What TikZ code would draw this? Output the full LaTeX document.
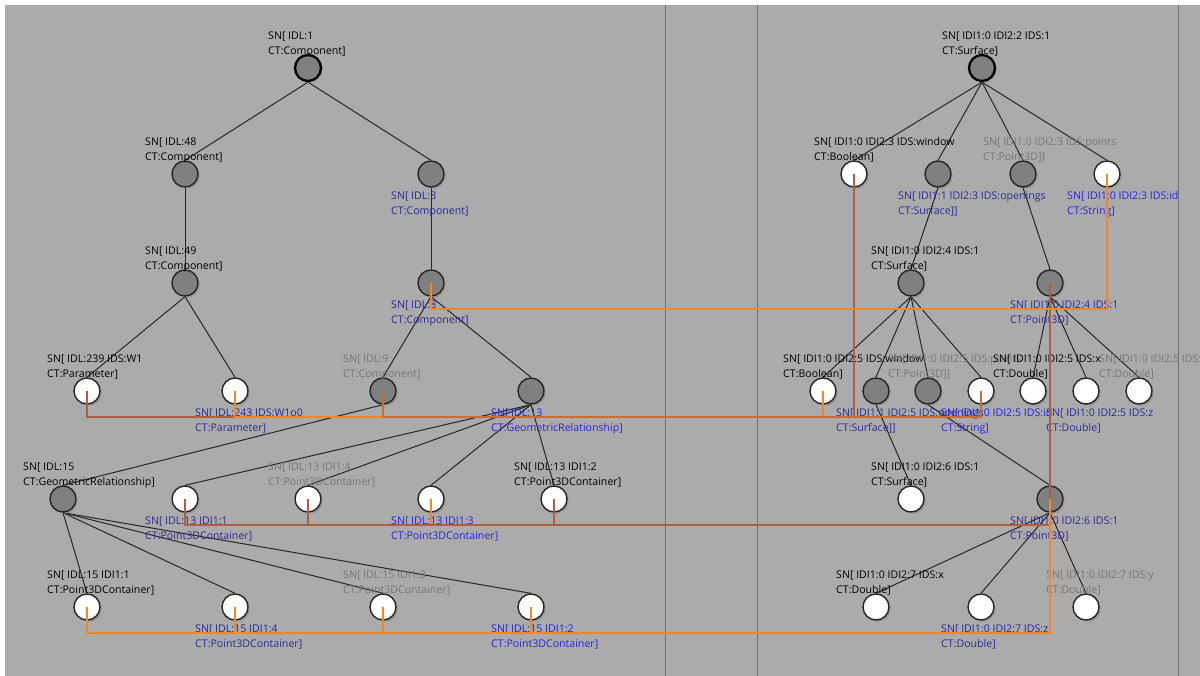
\documentclass[tikz,border=0pt]{standalone}
\usepackage{fontspec}
\setmainfont{Open Sans}
\usepackage{xcolor}
\usetikzlibrary{shadows, backgrounds}
\definecolor{BgGray}{RGB}{171,171,171}
\definecolor{NodeGray}{RGB}{128,128,128}
\definecolor{EdgeDark}{RGB}{38,38,38}
\definecolor{PaneLine}{RGB}{112,112,112}
\definecolor{TextNavy}{RGB}{42,42,150}
\definecolor{TextBlue}{RGB}{36,36,228}
\definecolor{TextGray}{RGB}{118,118,118}
\definecolor{LinkOrange}{RGB}{240,136,40}
\definecolor{LinkBrown}{RGB}{172,96,62}
\definecolor{LinkSienna}{RGB}{196,110,58}
\tikzset{
  % Nodi dell'albero
  node base/.style={circle,draw=EdgeDark,line width=1.4pt,minimum size=26pt,inner sep=0pt,
    drop shadow={opacity=0.45,shadow xshift=1.8pt,shadow yshift=-1.8pt}},
  node dark/.style={node base,fill=NodeGray},
  node light/.style={node base,fill=white},
  node root/.style={node dark,draw=black,line width=2.3pt},
  % Etichette
  tag/.style={inner sep=0pt,align=left,anchor=west,font=\fontsize{10.6}{15}\selectfont},
  tag above/.style={tag,xshift=-40pt,yshift=24pt},
  tag below/.style={tag,xshift=-40pt,yshift=-30pt},
  % Connessioni
  connect/.style={line width=1pt,EdgeDark},
  link/.style={line width=2pt,LinkOrange},
  link brown/.style={link,LinkBrown},
  link sienna/.style={link,LinkSienna},
  pane/.style={line width=1pt,PaneLine}
}

\begin{document}
\begin{tikzpicture}[x=1pt,y=-1pt]
  \useasboundingbox (0,0) rectangle (1200,676);
  \begin{scope}
    \clip (0,0) rectangle (1200,676);
    % albero sinistro
    \node[node root]  (l1)   at (308,68)  {}; \node[tag above] (tl1) at (l1) {SN[ IDL:1\\CT:Component]};
    \node[node dark]  (l48)  at (185,174) {}; \node[tag above] (tl48) at (l48) {SN[ IDL:48\\CT:Component]};
    \node[node dark]  (l3)   at (431,174) {}; \node[tag below,TextNavy] (tl3) at (l3) {SN[ IDL:3\\CT:Component]};
    \node[node dark]  (l49)  at (185,283) {}; \node[tag above] (tl49) at (l49) {SN[ IDL:49\\CT:Component]};
    \node[node dark]  (l8)   at (431,283) {}; \node[tag below,TextNavy] (tl8) at (l8) {SN[ IDL:8\\CT:Component]};
    \node[node light] (l239) at (87,391)  {}; \node[tag above] (tl239) at (l239) {SN[ IDL:239 IDS:W1\\CT:Parameter]};
    \node[node light] (l243) at (235,391) {}; \node[tag below,TextNavy] (tl243) at (l243) {SN[ IDL:243 IDS:W1o0\\CT:Parameter]};
    \node[node dark]  (l9)   at (383,391) {}; \node[tag above,TextGray] (tl9) at (l9) {SN[ IDL:9\\CT:Component]};
    \node[node dark]  (l13)  at (531,391) {}; \node[tag below,TextBlue] (tl13) at (l13) {SN[ IDL:13\\CT:GeometricRelationship]};
    \node[node dark]  (l15)  at (63,499)  {}; \node[tag above] (tl15) at (l15) {SN[ IDL:15\\CT:GeometricRelationship]};
    \node[node light] (l13a) at (185,499) {}; \node[tag below,TextNavy] (tl13a) at (l13a) {SN[ IDL:13 IDI1:1\\CT:Point3DContainer]};
    \node[node light] (l13d) at (308,499) {}; \node[tag above,TextGray] (tl13d) at (l13d) {SN[ IDL:13 IDI1:4\\CT:Point3DContainer]};
    \node[node light] (l13c) at (431,499) {}; \node[tag below,TextBlue] (tl13c) at (l13c) {SN[ IDL:13 IDI1:3\\CT:Point3DContainer]};
    \node[node light] (l13b) at (554,499) {}; \node[tag above] (tl13b) at (l13b) {SN[ IDL:13 IDI1:2\\CT:Point3DContainer]};
    \node[node light] (l15a) at (87,607)  {}; \node[tag above] (tl15a) at (l15a) {SN[ IDL:15 IDI1:1\\CT:Point3DContainer]};
    \node[node light] (l15d) at (235,607) {}; \node[tag below,TextNavy] (tl15d) at (l15d) {SN[ IDL:15 IDI1:4\\CT:Point3DContainer]};
    \node[node light] (l15c) at (383,607) {}; \node[tag above,TextGray] (tl15c) at (l15c) {SN[ IDL:15 IDI1:3\\CT:Point3DContainer]};
    \node[node light] (l15b) at (531,607) {}; \node[tag below,TextBlue] (tl15b) at (l15b) {SN[ IDL:15 IDI1:2\\CT:Point3DContainer]};
    % albero destro
    \node[node root]  (r2)     at (982,68)   {}; \node[tag above] (tr2) at (r2) {SN[ IDI1:0 IDI2:2 IDS:1\\CT:Surface]};
    \node[node light] (r3win)  at (854,174)  {}; \node[tag above] (tr3win) at (r3win) {SN[ IDI1:0 IDI2:3 IDS:window\\CT:Boolean]};
    \node[node dark]  (r3open) at (938,174)  {}; \node[tag below,TextNavy] (tr3open) at (r3open) {SN[ IDI1:1 IDI2:3 IDS:openings\\CT:Surface]]};
    \node[node dark]  (r3pts)  at (1023,174) {}; \node[tag above,TextGray] (tr3pts) at (r3pts) {SN[ IDI1:0 IDI2:3 IDS:points\\CT:Point3D]]};
    \node[node light] (r3id)   at (1107,174) {}; \node[tag below,TextBlue] (tr3id) at (r3id) {SN[ IDI1:0 IDI2:3 IDS:id\\CT:String]};
    \node[node dark]  (r4srf)  at (911,283)  {}; \node[tag above] (tr4srf) at (r4srf) {SN[ IDI1:0 IDI2:4 IDS:1\\CT:Surface]};
    \node[node dark]  (r4pt)   at (1050,283) {}; \node[tag below,TextNavy] (tr4pt) at (r4pt) {SN[ IDI1:0 IDI2:4 IDS:1\\CT:Point3D]};
    \node[node light] (r5win)  at (823,391)  {}; \node[tag above] (tr5win) at (r5win) {SN[ IDI1:0 IDI2:5 IDS:window\\CT:Boolean]};
    \node[node dark]  (r5open) at (876,391)  {}; \node[tag below,TextNavy] (tr5open) at (r5open) {SN[ IDI1:1 IDI2:5 IDS:openings\\CT:Surface]]};
    \node[node dark]  (r5pts)  at (928,391)  {}; \node[tag above,TextGray] (tr5pts) at (r5pts) {SN[ IDI1:0 IDI2:5 IDS:points\\CT:Point3D]]};
    \node[node light] (r5id)   at (981,391)  {}; \node[tag below,TextBlue] (tr5id) at (r5id) {SN[ IDI1:0 IDI2:5 IDS:id\\CT:String]};
    \node[node light] (r5x)    at (1033,391) {}; \node[tag above] (tr5x) at (r5x) {SN[ IDI1:0 IDI2:5 IDS:x\\CT:Double]};
    \node[node light] (r5z)    at (1086,391) {}; \node[tag below,TextNavy] (tr5z) at (r5z) {SN[ IDI1:0 IDI2:5 IDS:z\\CT:Double]};
    \node[node light] (r5y)    at (1139,391) {}; \node[tag above,TextGray] (tr5y) at (r5y) {SN[ IDI1:0 IDI2:5 IDS:y\\CT:Double]};
    \node[node light] (r6srf)  at (911,499)  {}; \node[tag above] (tr6srf) at (r6srf) {SN[ IDI1:0 IDI2:6 IDS:1\\CT:Surface]};
    \node[node dark]  (r6pt)   at (1050,499) {}; \node[tag below,TextNavy] (tr6pt) at (r6pt) {SN[ IDI1:0 IDI2:6 IDS:1\\CT:Point3D]};
    \node[node light] (r7x)    at (876,607)  {}; \node[tag above] (tr7x) at (r7x) {SN[ IDI1:0 IDI2:7 IDS:x\\CT:Double]};
    \node[node light] (r7z)    at (981,607)  {}; \node[tag below,TextNavy] (tr7z) at (r7z) {SN[ IDI1:0 IDI2:7 IDS:z\\CT:Double]};
    \node[node light] (r7y)    at (1086,607) {}; \node[tag above,TextGray] (tr7y) at (r7y) {SN[ IDI1:0 IDI2:7 IDS:y\\CT:Double]};
  \end{scope}

  \begin{scope}[on background layer]
    \fill[white] (0,0) rectangle (1200,676);
    \fill[BgGray] (5,5) rectangle (1200,676);
    \draw[pane] (665,5) -- (665,676);
    \draw[pane] (757,5) -- (757,676);
    \draw[pane] (1178,5) -- (1178,676);
    % archi
    \draw[connect] (l1.south) -- (l48.north);
    \draw[connect] (l1.south) -- (l3.north);
    \draw[connect] (l48.south) -- (l49.north);
    \draw[connect] (l3.south) -- (l8.north);
    \draw[connect] (l49.south) -- (l239.north);
    \draw[connect] (l49.south) -- (l243.north);
    \draw[connect] (l8.south) -- (l9.north);
    \draw[connect] (l8.south) -- (l13.north);
    \draw[connect] (l9.south) -- (l15.north);
    \draw[connect] (l13.south) -- (l13a.north);
    \draw[connect] (l13.south) -- (l13d.north);
    \draw[connect] (l13.south) -- (l13c.north);
    \draw[connect] (l13.south) -- (l13b.north);
    \draw[connect] (l15.south) -- (l15a.north);
    \draw[connect] (l15.south) -- (l15d.north);
    \draw[connect] (l15.south) -- (l15c.north);
    \draw[connect] (l15.south) -- (l15b.north);
    \draw[connect] (r2.south) -- (r3win.north);
    \draw[connect] (r2.south) -- (r3open.north);
    \draw[connect] (r2.south) -- (r3pts.north);
    \draw[connect] (r2.south) -- (r3id.north);
    \draw[connect] (r3open.south) -- (r4srf.north);
    \draw[connect] (r3pts.south) -- (r4pt.north);
    \draw[connect] (r4srf.south) -- (r5win.north);
    \draw[connect] (r4srf.south) -- (r5open.north);
    \draw[connect] (r4srf.south) -- (r5pts.north);
    \draw[connect] (r4srf.south) -- (r5id.north);
    \draw[connect] (r4pt.south) -- (r5x.north);
    \draw[connect] (r4pt.south) -- (r5z.north);
    \draw[connect] (r4pt.south) -- (r5y.north);
    \draw[connect] (r5open.south) -- (r6srf.north);
    \draw[connect] (r5pts.south) -- (r6pt.north);
    \draw[connect] (r6pt.south) -- (r7x.north);
    \draw[connect] (r6pt.south) -- (r7z.north);
    \draw[connect] (r6pt.south) -- (r7y.north);
  \end{scope}

  % collegamenti fra i due alberi
  \draw[link brown]  (l239.center) -- ++(0,26) -| (r3win.center);
  \draw[link]        (l243.center) -- ++(0,26) -| (r5win.center);
  \draw[link sienna] (l9.center)   -- ++(0,26) -| (r5id.center);
  \draw[link]        (l13c.center) -- ++(0,26) -| (r4pt.center);
  \draw[link brown]  (l13a.center) -- ++(0,26) -| (r4pt.center);
  \draw[link brown]  (l13d.center) -- ++(0,26) -| (r4pt.center);
  \draw[link brown]  (l13b.center) -- ++(0,26) -| (r4pt.center);
  \draw[link]        (l15a.center) -- ++(0,26) -| (r6pt.center);
  \draw[link]        (l15d.center) -- ++(0,26) -| (r6pt.center);
  \draw[link]        (l15c.center) -- ++(0,26) -| (r6pt.center);
  \draw[link]        (l15b.center) -- ++(0,26) -| (r6pt.center);
  \draw[link]        (l8.center)   -- ++(0,26) -| (r3id.center);
\end{tikzpicture}
\end{document}
